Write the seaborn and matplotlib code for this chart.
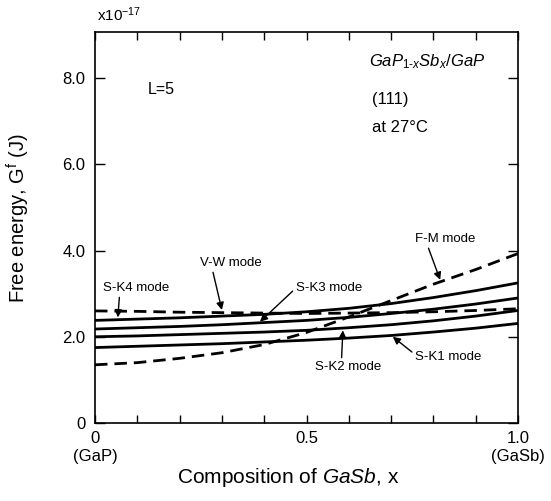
import numpy as np
import pandas as pd
import matplotlib
matplotlib.use("Agg")
import matplotlib.pyplot as plt
import seaborn as sns
from matplotlib.ticker import MultipleLocator, FixedLocator

# ---- data (units of 1e-17 J) ----
x = [0.0, 0.1, 0.2, 0.3, 0.4, 0.5, 0.6, 0.7, 0.8, 0.9, 1.0]
sk1 = [1.75, 1.78, 1.81, 1.84, 1.88, 1.92, 1.97, 2.03, 2.11, 2.20, 2.31]
sk2 = [2.00, 2.02, 2.05, 2.08, 2.11, 2.15, 2.21, 2.28, 2.37, 2.48, 2.61]
sk3 = [2.18, 2.21, 2.24, 2.28, 2.33, 2.38, 2.45, 2.54, 2.64, 2.76, 2.90]
sk4 = [2.38, 2.41, 2.44, 2.48, 2.52, 2.58, 2.66, 2.77, 2.91, 3.07, 3.25]
vw = [2.60, 2.59, 2.57, 2.56, 2.55, 2.54, 2.55, 2.56, 2.58, 2.61, 2.65]
fm = [1.35, 1.40, 1.50, 1.63, 1.82, 2.10, 2.46, 2.84, 3.22, 3.56, 3.93]

xtick_vals = [0.0, 0.5, 1.0]
xtick_labels = ["0\n(GaP)", "0.5", "1.0\n(GaSb)"]
ytick_vals = [0, 2, 4, 6, 8]
ytick_labels = ["0", "2.0", "4.0", "6.0", "8.0"]

sns.set_theme(style="ticks")
plt.rcParams['font.family'] = ['Liberation Sans', 'DejaVu Sans']
plt.rcParams['mathtext.fontset'] = 'custom'
plt.rcParams['mathtext.rm'] = 'Liberation Sans'
plt.rcParams['mathtext.it'] = 'Liberation Sans:italic'
plt.rcParams['mathtext.bf'] = 'Liberation Sans:bold'
for k in ['text.color', 'axes.labelcolor', 'xtick.color', 'ytick.color', 'axes.edgecolor']:
    plt.rcParams[k] = 'black'

fig = plt.figure(figsize=(5.51, 5.01), dpi=100)
ax = fig.add_axes([95/551, 1-423/501, (518-95)/551, (423-32)/501])

solid = [sk1, sk2, sk3, sk4]
for s in solid:
    sns.lineplot(x=x, y=s, ax=ax, color='black', linewidth=2.0)
for s in [vw, fm]:
    sns.lineplot(x=x, y=s, ax=ax, color='black', linewidth=2.0)
    ax.lines[-1].set_dashes([4.5, 2.5])

ax.set_xlim(0, 1.0)
ax.set_ylim(0, 9.07)
ax.xaxis.set_major_locator(FixedLocator(xtick_vals))
ax.set_xticklabels(xtick_labels)
ax.xaxis.set_minor_locator(MultipleLocator(0.1))
ax.yaxis.set_major_locator(FixedLocator(ytick_vals))
ax.set_yticklabels(ytick_labels)
ax.tick_params(which='both', direction='in', top=True, right=True, color='black',
               labelcolor='black', width=1.0)
ax.tick_params(axis='y', which='major', length=7, pad=7, labelsize=12)
ax.tick_params(axis='x', which='major', length=6, pad=6, labelsize=12)
ax.tick_params(axis='x', which='minor', length=6)
for sp in ax.spines.values():
    sp.set_color('black')
    sp.set_linewidth(1.2)

ax.set_xlabel(r"Composition of $\mathit{GaSb}$, x", fontsize=15, color='black')
ax.xaxis.set_label_coords((288-95)/423, -0.11)
ax.set_ylabel(r"Free energy, G$^{\mathrm{f}}$ (J)", fontsize=14.5, color='black')
ax.yaxis.set_label_coords(-0.148, (423-218)/391)

fig.text(97/551, 1-15/501, r"x10$^{-17}$", fontsize=11, va='center', ha='left', color='black')

ax.text(0.648, (423-62)/43.1, r"$\mathit{GaP}_{\mathrm{1\text{-}}\mathit{x}}\mathit{Sb}_{\mathit{x}}\mathit{/GaP}$",
        fontsize=12, va='center', ha='left', color='black')
ax.text(0.655, (423-100)/43.1, "(111)", fontsize=12, va='center', ha='left', color='black')
ax.text(0.655, (423-128)/43.1, "at 27°C", fontsize=12, va='center', ha='left', color='black')
ax.text(0.125, 7.73, "L=5", fontsize=11.5, va='center', ha='left', color='black')

ap = dict(arrowstyle='-|>', color='black', lw=1.0, mutation_scale=11, shrinkA=0, shrinkB=0)
fs = 9.5
ax.annotate("F-M mode", xy=(0.816, 3.32), xytext=(0.757, 4.27), fontsize=fs, color='black',
            va='center', ha='left', arrowprops=dict(ap, relpos=(0.2, 0.0)))
ax.annotate("V-W mode", xy=(0.300, 2.62), xytext=(0.248, 3.71), fontsize=fs, color='black',
            va='center', ha='left', arrowprops=dict(ap, relpos=(0.2, 0.0)))
ax.annotate("S-K4 mode", xy=(0.054, 2.45), xytext=(0.019, 3.13), fontsize=fs, color='black',
            va='center', ha='left', arrowprops=dict(ap, relpos=(0.25, 0.0)))
ax.annotate("S-K3 mode", xy=(0.39, 2.35), xytext=(0.475, 3.13), fontsize=fs, color='black',
            va='center', ha='left', arrowprops=dict(ap, relpos=(0.0, 0.5)))
ax.annotate("S-K2 mode", xy=(0.586, 2.15), xytext=(0.52, 1.30), fontsize=fs, color='black',
            va='center', ha='left', arrowprops=dict(ap, relpos=(0.4, 1.0)))
ax.annotate("S-K1 mode", xy=(0.704, 2.0), xytext=(0.757, 1.53), fontsize=fs, color='black',
            va='center', ha='left', arrowprops=dict(ap, relpos=(0.0, 0.7)))

fig.savefig("out.png", dpi=100)
